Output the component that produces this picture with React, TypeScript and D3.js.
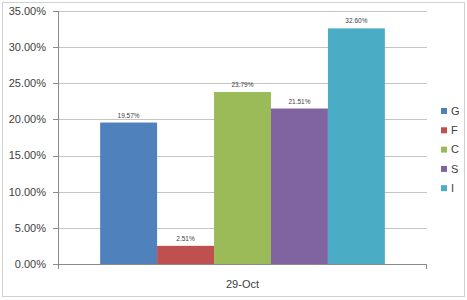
import React from "react";
import * as d3 from "d3";

const categories = ["29-Oct"];
const seriesNames = ["G", "F", "C", "S", "I"];
const seriesValues = [19.57, 2.51, 23.79, 21.51, 32.6];
const seriesColors = ["#4F81BD", "#C0504D", "#9BBB59", "#8064A2", "#4BACC6"];
const yTicks = [0, 5, 10, 15, 20, 25, 30, 35];

const W = 467;
const H = 300;
const plot = { left: 58, right: 427, top: 11, bottom: 264 };

export default function App() {
  const y = d3.scaleLinear().domain([0, 35]).range([plot.bottom, plot.top]);
  const x0 = d3.scaleBand<string>().domain(categories).range([plot.left, plot.right]);
  const x1 = d3
    .scaleBand<string>()
    .domain(seriesNames)
    .range([0, x0.bandwidth()])
    .paddingInner(0)
    .paddingOuter(0.74);
  const font = "'Liberation Sans', Arial, sans-serif";
  return (
    <svg
      width={W}
      height={H}
      style={{ position: "absolute", left: 0, top: 0, background: "#fff" }}
      fontFamily={font}
    >
      <rect x={2.5} y={2.5} width={462} height={294} fill="#fff" stroke="#d0d0d0" strokeWidth={1} />
      {yTicks.map((t) => (
        <g key={t}>
          {t > 0 && (
            <line
              x1={plot.left}
              x2={plot.right}
              y1={Math.round(y(t)) + 0.5}
              y2={Math.round(y(t)) + 0.5}
              stroke="#c4c4c4"
              strokeWidth={1}
            />
          )}
          <line
            x1={plot.left - 5}
            x2={plot.left}
            y1={Math.round(y(t)) + 0.5}
            y2={Math.round(y(t)) + 0.5}
            stroke="#8a8a8a"
          />
          <text
            x={46}
            y={y(t)}
            dy="0.35em"
            textAnchor="end"
            fontSize={11}
            fill="#404040"
          >
            {t.toFixed(2) + "%"}
          </text>
        </g>
      ))}
      {categories.map((c) => (
        <g key={c}>
          {seriesNames.map((s, i) => {
            const bx = (x0(c) as number) + (x1(s) as number);
            const by = y(seriesValues[i]);
            return (
              <g key={s}>
                <rect
                  x={bx}
                  y={by}
                  width={x1.bandwidth()}
                  height={plot.bottom - by}
                  fill={seriesColors[i]}
                />
                <text
                  x={bx + x1.bandwidth() / 2}
                  y={by - 5}
                  textAnchor="middle"
                  fontSize={6.5}
                  fill="#404040"
                >
                  {seriesValues[i].toFixed(2) + "%"}
                </text>
              </g>
            );
          })}
          <text
            x={(x0(c) as number) + x0.bandwidth() / 2}
            y={284}
            dy="0.35em"
            textAnchor="middle"
            fontSize={11}
            fill="#404040"
          >
            {c}
          </text>
        </g>
      ))}
      <line x1={plot.left + 0.5} x2={plot.left + 0.5} y1={plot.top} y2={plot.bottom} stroke="#8a8a8a" />
      <line x1={plot.left} x2={plot.right} y1={plot.bottom + 0.5} y2={plot.bottom + 0.5} stroke="#8a8a8a" />
      <line x1={plot.right - 0.5} x2={plot.right - 0.5} y1={plot.bottom} y2={plot.bottom + 5} stroke="#8a8a8a" />
      <line x1={plot.left + 0.5} x2={plot.left + 0.5} y1={plot.bottom} y2={plot.bottom + 5} stroke="#8a8a8a" />
      {seriesNames.map((s, i) => {
        const ly = 111 + i * 19.3;
        return (
          <g key={s}>
            <rect x={441} y={ly - 3} width={6} height={6} fill={seriesColors[i]} />
            <text x={451} y={ly} dy="0.35em" fontSize={11} fill="#404040">
              {s}
            </text>
          </g>
        );
      })}
    </svg>
  );
}
